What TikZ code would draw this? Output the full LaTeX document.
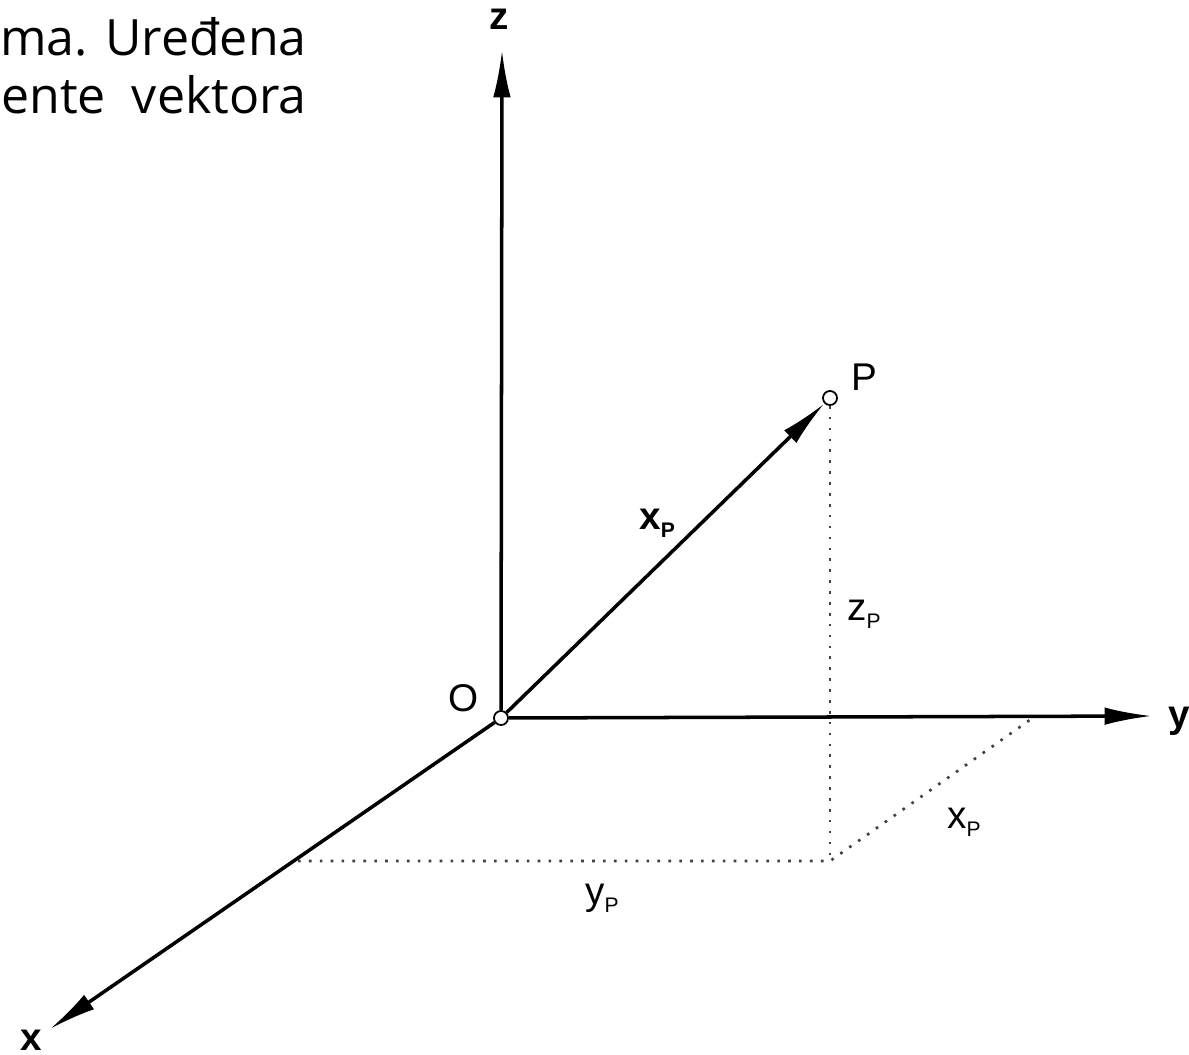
\documentclass[tikz,border=0pt]{standalone}
\usepackage{fontspec}
\setmainfont{Liberation Sans}
\newfontfamily\pagefont{Open Sans}
\usetikzlibrary{arrows.meta,positioning}

% label with a small subscript P
\newcommand{\withP}[1]{#1\raisebox{-0.4ex}{\fontsize{12}{12}\selectfont P}}

\begin{document}
\begin{tikzpicture}[x=0.02cm,y=-0.02cm,>={Latex[length=27pt,width=10pt]},
  axis/.style={line width=2pt,->},
  proj/.style={line width=1.5pt,black!75,dash pattern=on 1.5pt off 4.7pt},
  pt/.style={circle,draw,line width=1pt,fill=white,inner sep=0pt,minimum size=8pt},
  lbl/.style={font=\fontsize{22}{22}\selectfont,inner sep=0pt},
  axlbl/.style={lbl,font=\fontsize{22}{22}\selectfont\bfseries}]
  \useasboundingbox (0,0) rectangle (1189,1054);

  % text of the page behind the figure
  \node[anchor=base east,inner sep=0pt,font=\fontsize{28.5}{28.5}\selectfont\pagefont] (line1) at (307,56) {ma. Uređena};
  \node[anchor=base east,inner sep=0pt,font=\fontsize{28.5}{28.5}\selectfont\pagefont] (line2) at (307,114) {ente~~vektora};

  % points and axis ends
  \node[pt] (O) at (501,718) {};
  \node[pt] (P) at (830,398) {};
  \coordinate (ztip) at (502,50);
  \coordinate (ytip) at (1152,716);
  \coordinate (xtip) at (50,1029);
  \coordinate (F) at (830,861);
  \coordinate (Fx) at (298,861);
  \coordinate (Fy) at (1034,717);

  % projections
  \draw[proj] (P) -- (F);
  \draw[proj] (Fx) -- (F) -- (Fy);

  % axes
  \draw[axis] (O) -- (ztip);
  \draw[axis] (O) -- (ytip);
  \draw[axis] (O) -- (xtip);
  \draw[axis] (O) -- (P);

  % labels
  \node[axlbl,anchor=base] (zlbl) at (499,30) {z};
  \node[axlbl,anchor=base west] (ylbl) at (1168,727) {y};
  \node[axlbl,anchor=base] (xlbl) at (31,1050) {x};
  \node[lbl,anchor=base west] (Olbl) at (448,711) {O};
  \node[lbl,anchor=base west] (Plbl) at (851,390) {P};
  \node[lbl,anchor=base west,font=\fontsize{22}{22}\selectfont\bfseries] (xPvec) at (639,529) {\withP{x}};
  \node[lbl,anchor=base west] (zP) at (847,620) {\withP{z}};
  \node[lbl,anchor=base west] (xP) at (947,828) {\withP{x}};
  \node[lbl,anchor=base west] (yP) at (585,904) {\withP{y}};
\end{tikzpicture}
\end{document}
